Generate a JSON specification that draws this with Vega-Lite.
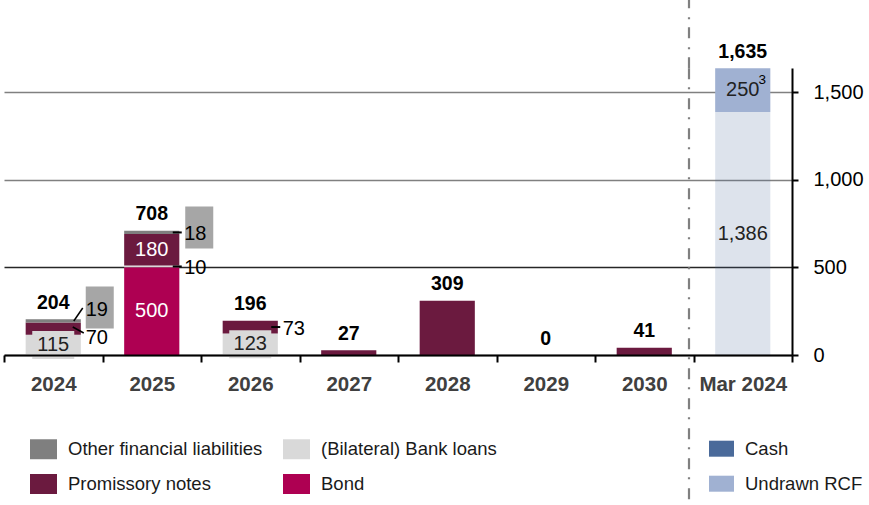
{
  "$schema": "https://vega.github.io/schema/vega-lite/v6.json",
  "width": 788,
  "height": 287,
  "autosize": {"type": "none"},
  "padding": {"left": 4, "top": 68, "right": 77, "bottom": 150},
  "background": "white",
  "config": {
    "view": {"stroke": null},
    "font": "Liberation Sans",
    "axisY": {"orient": "right", "grid": true, "gridWidth": 1.7, "domainColor": "#000000", "domainWidth": 2, "tickColor": "#000000", "tickWidth": 2, "tickSize": 6, "labelFont": "Liberation Sans", "labelFontSize": 20, "labelColor": "#000000", "labelPadding": 15, "title": null}
  },
  "datasets": {
    "debt": [
      {"period": "2024", "category": "(Bilateral) Bank loans", "value": 115},
      {"period": "2024", "category": "Promissory notes", "value": 70},
      {"period": "2024", "category": "Other financial liabilities", "value": 19},
      {"period": "2025", "category": "Bond", "value": 500},
      {"period": "2025", "category": "(Bilateral) Bank loans", "value": 10},
      {"period": "2025", "category": "Promissory notes", "value": 180},
      {"period": "2025", "category": "Other financial liabilities", "value": 18},
      {"period": "2026", "category": "(Bilateral) Bank loans", "value": 123},
      {"period": "2026", "category": "Promissory notes", "value": 73},
      {"period": "2027", "category": "Promissory notes", "value": 27},
      {"period": "2028", "category": "Promissory notes", "value": 309},
      {"period": "2029", "category": "Promissory notes", "value": 0},
      {"period": "2030", "category": "Promissory notes", "value": 41},
      {"period": "Mar 2024", "category": "Cash", "value": 1386},
      {"period": "Mar 2024", "category": "Undrawn RCF", "value": 250}
    ],
    "totals": [
      {"period": "2024", "total": 204},
      {"period": "2025", "total": 708},
      {"period": "2026", "total": 196},
      {"period": "2027", "total": 27},
      {"period": "2028", "total": 309},
      {"period": "2029", "total": 0},
      {"period": "2030", "total": 41},
      {"period": "Mar 2024", "total": 1635}
    ]
  },
  "data": {"name": "debt"},
  "transform": [
    {"calculate": "indexof(['Bond','(Bilateral) Bank loans','Promissory notes','Other financial liabilities','Cash','Undrawn RCF'], datum.category)", "as": "ord"},
    {"stack": "value", "groupby": ["period"], "sort": [{"field": "ord", "order": "ascending"}], "as": ["v0", "v1"]},
    {"calculate": "(datum.v0 + datum.v1) / 2", "as": "mid"}
  ],
  "encoding": {
    "x": {
      "field": "period", "type": "nominal", "title": null,
      "scale": {"domain": ["2024", "2025", "2026", "2027", "2028", "2029", "2030", "Mar 2024"], "paddingInner": 0, "paddingOuter": 0},
      "axis": {"orient": "bottom", "tickBand": "extent", "domainColor": "#000000", "domainWidth": 2, "tickColor": "#000000", "tickWidth": 2, "tickSize": 7, "labelFont": "Liberation Sans", "labelFontWeight": "bold", "labelFontSize": 20.5, "labelColor": "#404040", "labelPadding": 12, "labelAngle": 0, "title": null, "grid": false, "zindex": 1}
    },
    "y": {
      "field": "mid", "type": "quantitative", "title": null,
      "scale": {"domain": [0, 1637], "nice": false},
      "axis": {"orient": "right", "values": [0, 500, 1000, 1500], "labelExpr": "format(datum.value, ',')", "title": null, "gridColor": {"condition": {"test": "datum.value === 500", "value": "#262626"}, "value": "#808080"}}
    }
  },
  "layer": [
    {
      "transform": [{"filter": "datum.period != 'Mar 2024'"}],
      "mark": {"type": "bar", "width": {"band": 0.56}, "strokeWidth": 0},
      "encoding": {
        "y": {
          "field": "v1", "type": "quantitative", "title": null,
          "scale": {"domain": [0, 1637], "nice": false},
          "axis": {"orient": "right", "values": [0, 500, 1000, 1500], "labelExpr": "format(datum.value, ',')", "title": null, "gridColor": {"condition": {"test": "datum.value === 500", "value": "#262626"}, "value": "#808080"}}
        },
        "y2": {"field": "v0"},
        "color": {
          "field": "category", "type": "nominal",
          "scale": {"domain": ["Other financial liabilities", "Promissory notes", "(Bilateral) Bank loans", "Bond"], "range": ["#7f7f7f", "#6b1a3f", "#d9d9d9", "#ae0052"]},
          "legend": {"orient": "none", "legendX": 26, "legendY": 367.5, "columns": 2, "direction": "vertical", "title": null, "padding": 0, "symbolType": "M-1,-0.74H1V0.74H-1Z", "symbolSize": 729, "symbolStrokeWidth": 0, "symbolOpacity": 1, "labelFont": "Liberation Sans", "labelFontSize": 18.5, "labelColor": "#1a1a1a", "labelOffset": 11, "labelLimit": 300, "columnPadding": 20, "rowPadding": 11}
        }
      }
    },
    {
      "transform": [{"filter": "datum.period == 'Mar 2024'"}],
      "mark": {"type": "bar", "width": {"band": 0.56}, "strokeWidth": 0},
      "encoding": {
        "y": {
          "field": "v1", "type": "quantitative", "title": null,
          "scale": {"domain": [0, 1637], "nice": false},
          "axis": {"orient": "right", "values": [0, 500, 1000, 1500], "labelExpr": "format(datum.value, ',')", "title": null, "gridColor": {"condition": {"test": "datum.value === 500", "value": "#262626"}, "value": "#808080"}}
        },
        "y2": {"field": "v0"},
        "color": {
          "field": "category", "type": "nominal",
          "scale": {"domain": ["Cash", "Undrawn RCF"], "range": ["#4a6a9a", "#a0b1d2"]},
          "legend": {"orient": "none", "legendX": 705, "legendY": 368.2, "columns": 1, "title": null, "padding": 0, "symbolType": "M-1,-0.64H1V0.64H-1Z", "symbolSize": 625, "symbolStrokeWidth": 0, "symbolOpacity": 1, "labelFont": "Liberation Sans", "labelFontSize": 18.5, "labelColor": "#1a1a1a", "labelOffset": 11, "labelLimit": 300, "rowPadding": 13}
        },
        "opacity": {"condition": {"test": "datum.category == 'Cash'", "value": 0.19}, "value": 1}
      }
    },
    {
      "transform": [{"filter": "datum.category == '(Bilateral) Bank loans' && datum.value >= 100"}],
      "mark": {"type": "point", "shape": "M-1,-0.667H1V0.667H-1Z", "size": 1764, "filled": true, "color": "#d9d9d9", "opacity": 1, "strokeWidth": 0}
    },
    {
      "transform": [{"filter": "datum.category == 'Other financial liabilities' && datum.period == '2024'"}],
      "mark": {"type": "point", "shape": "M-0.667,-1H0.667V1H-0.667Z", "size": 1764, "filled": true, "color": "#a6a6a6", "opacity": 1, "strokeWidth": 0, "xOffset": 46.5, "yOffset": -13.4}
    },
    {
      "transform": [{"filter": "datum.category == 'Other financial liabilities' && datum.period == '2025'"}],
      "mark": {"type": "point", "shape": "M-0.667,-1H0.667V1H-0.667Z", "size": 1764, "filled": true, "color": "#a6a6a6", "opacity": 1, "strokeWidth": 0, "xOffset": 47.5, "yOffset": -5}
    },
    {
      "transform": [{"filter": "datum.value >= 100 && datum.period != '2028'"}],
      "mark": {"type": "text", "font": "Liberation Sans", "fontSize": 20, "baseline": "middle"},
      "encoding": {
        "text": {"field": "value", "type": "quantitative", "format": ","},
        "color": {"condition": {"test": "datum.category == 'Bond' || datum.category == 'Promissory notes'", "value": "#ffffff"}, "value": "#222222"}
      }
    },
    {
      "transform": [{"filter": "datum.value > 0 && datum.value < 100 && (datum.period == '2025' || datum.period == '2026')"}],
      "mark": {"type": "text", "font": "Liberation Sans", "fontSize": 20, "align": "left", "baseline": "middle", "dx": 32.5, "dy": 1.5, "color": "#000000"},
      "encoding": {"text": {"field": "value", "type": "quantitative", "format": ","}}
    },
    {
      "transform": [{"filter": "datum.period == '2024' && datum.category == 'Other financial liabilities'"}],
      "mark": {"type": "text", "font": "Liberation Sans", "fontSize": 20, "align": "left", "baseline": "middle", "dx": 32.5, "dy": -11, "color": "#000000"},
      "encoding": {"text": {"field": "value", "type": "quantitative", "format": ","}}
    },
    {
      "transform": [{"filter": "datum.period == '2024' && datum.category == 'Promissory notes'"}],
      "mark": {"type": "text", "font": "Liberation Sans", "fontSize": 20, "align": "left", "baseline": "middle", "dx": 32.5, "dy": 9, "color": "#000000"},
      "encoding": {"text": {"field": "value", "type": "quantitative", "format": ","}}
    },
    {
      "transform": [{"filter": "datum.value > 0 && datum.value < 100 && (datum.period == '2025' || datum.period == '2026')"}],
      "mark": {"type": "point", "shape": "M-1,0H1", "size": 81, "filled": false, "stroke": "#000000", "strokeWidth": 2, "opacity": 1, "xOffset": 25.5}
    },
    {
      "transform": [{"filter": "datum.period == '2024' && datum.category == 'Other financial liabilities'"}],
      "mark": {"type": "point", "shape": "M-0.56,0.81L0.56,-0.81", "size": 256, "filled": false, "stroke": "#000000", "strokeWidth": 1.5, "opacity": 1, "xOffset": 25, "yOffset": -6.4}
    },
    {
      "transform": [{"filter": "datum.period == '2024' && datum.category == 'Promissory notes'"}],
      "mark": {"type": "point", "shape": "M-0.87,-0.48L0.87,0.48", "size": 159, "filled": false, "stroke": "#000000", "strokeWidth": 1.5, "opacity": 1, "xOffset": 25, "yOffset": 1.3}
    },
    {
      "transform": [{"filter": "datum.category == 'Undrawn RCF'"}],
      "mark": {"type": "text", "font": "Liberation Sans", "fontSize": 13.5, "baseline": "middle", "dx": 19.5, "dy": -10, "color": "#000000"},
      "encoding": {"text": {"value": "3"}}
    },
    {
      "data": {"name": "totals"},
      "mark": {"type": "text", "font": "Liberation Sans", "fontSize": 19.5, "fontWeight": "bold", "baseline": "middle", "dy": -16.5, "color": "#000000"},
      "encoding": {
        "y": {
          "field": "total", "type": "quantitative", "title": null,
          "scale": {"domain": [0, 1637], "nice": false},
          "axis": {"orient": "right", "values": [0, 500, 1000, 1500], "labelExpr": "format(datum.value, ',')", "title": null, "gridColor": {"condition": {"test": "datum.value === 500", "value": "#262626"}, "value": "#808080"}}
        },
        "text": {"field": "total", "type": "quantitative", "format": ","}
      }
    },
    {
      "data": {"name": "totals"},
      "transform": [{"filter": "datum.period == 'Mar 2024'"}],
      "mark": {"type": "rule", "color": "#808080", "strokeWidth": 2.2, "strokeDash": [11, 8, 2, 9], "xOffset": -4.5},
      "encoding": {
        "x": {"field": "period", "type": "nominal", "bandPosition": 0},
        "y": {
          "field": "total", "type": "quantitative", "title": null,
          "scale": {"domain": [0, 1637], "nice": false},
          "axis": {"orient": "right", "values": [0, 500, 1000, 1500], "labelExpr": "format(datum.value, ',')", "title": null, "gridColor": {"condition": {"test": "datum.value === 500", "value": "#262626"}, "value": "#808080"}}
        },
        "y2": {"datum": -857}
      }
    },
    {
      "data": {"name": "totals"},
      "transform": [{"filter": "datum.period == 'Mar 2024'"}],
      "mark": {"type": "rule", "color": "#808080", "strokeWidth": 2.2, "strokeDash": [11, 8, 2, 9], "xOffset": -4.5},
      "encoding": {
        "x": {"field": "period", "type": "nominal", "bandPosition": 0},
        "y": {
          "field": "total", "type": "quantitative", "title": null,
          "scale": {"domain": [0, 1637], "nice": false},
          "axis": {"orient": "right", "values": [0, 500, 1000, 1500], "labelExpr": "format(datum.value, ',')", "title": null, "gridColor": {"condition": {"test": "datum.value === 500", "value": "#262626"}, "value": "#808080"}}
        },
        "y2": {"datum": 2030}
      }
    }
  ],
  "resolve": {"scale": {"color": "independent"}}
}
